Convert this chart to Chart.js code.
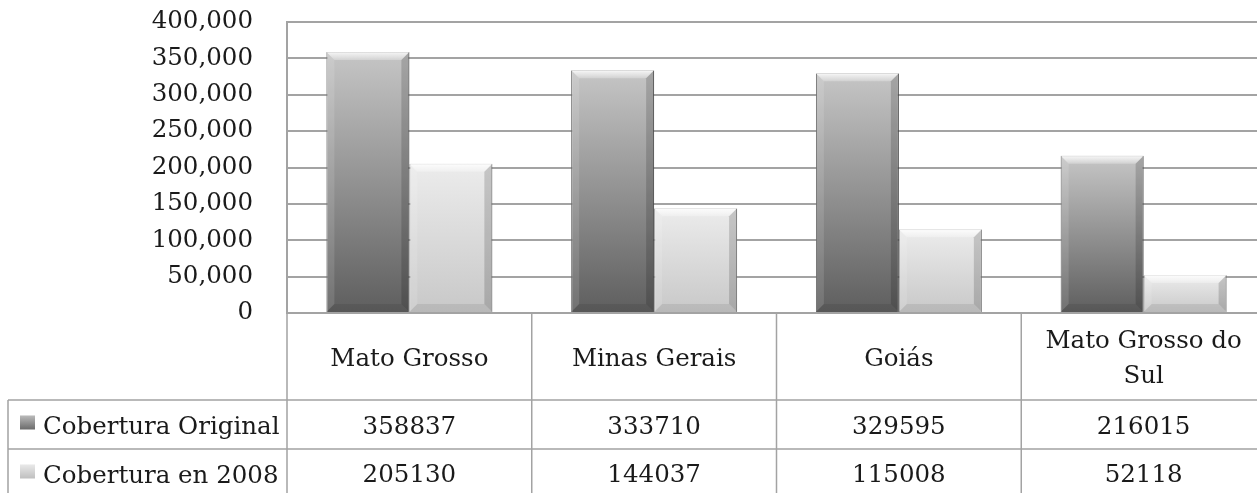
<!DOCTYPE html>
<html>
<head>
<meta charset="utf-8">
<script src="https://cdn.jsdelivr.net/npm/chart.js@4"></script>
<style>
  html, body { margin: 0; padding: 0; background: #fff; overflow: hidden; }
  canvas { display: block; }
</style>
</head>
<body>
<canvas id="coverChart" width="1275" height="500"></canvas>
<script>
var categories = ["Mato Grosso", "Minas Gerais", "Goiás", "Mato Grosso do Sul"];
var seriesNames = ["Cobertura Original", "Cobertura en 2008"];
var original = [358837, 333710, 329595, 216015];
var cover2008 = [205130, 144037, 115008, 52118];
var yTicks = [0, 50000, 100000, 150000, 200000, 250000, 300000, 350000, 400000];

var FONT = '24.5px "DejaVu Serif"';
var LINE = '#a3a3a3';

// per-bar vertical gradient, light at top, darker at base
function barFill(top, bottom) {
  return function (ctx) {
    var chart = ctx.chart;
    if (!chart.chartArea || ctx.parsed == null) return bottom;
    var y = chart.scales.y;
    var y0 = y.getPixelForValue(ctx.parsed.y);
    var y1 = y.getPixelForValue(0);
    var g = chart.ctx.createLinearGradient(0, y0, 0, y1);
    g.addColorStop(0, top);
    g.addColorStop(1, bottom);
    return g;
  };
}

// bevel look on the bars
var bevel = {
  id: 'bevel',
  afterDatasetsDraw: function (chart) {
    var c = chart.ctx, b = 8;
    chart.data.datasets.forEach(function (ds, di) {
      chart.getDatasetMeta(di).data.forEach(function (bar) {
        var l = bar.x - bar.width / 2, r = bar.x + bar.width / 2;
        var t = bar.y, btm = bar.base;
        var k = Math.min(b, (btm - t) / 2);
        c.save();
        var hg = c.createLinearGradient(0, t, 0, t + k);
        hg.addColorStop(0, 'rgba(255,255,255,0.85)');
        hg.addColorStop(1, 'rgba(255,255,255,0.25)');
        c.fillStyle = hg;
        c.beginPath();
        c.moveTo(l, t); c.lineTo(r, t); c.lineTo(r - k, t + k); c.lineTo(l + k, t + k);
        c.fill();
        c.fillStyle = 'rgba(255,255,255,0.12)';
        c.beginPath();
        c.moveTo(l, t); c.lineTo(l + k, t + k); c.lineTo(l + k, btm - k); c.lineTo(l, btm);
        c.fill();
        c.fillStyle = 'rgba(0,0,0,0.16)';
        c.beginPath();
        c.moveTo(r, t); c.lineTo(r - k, t + k); c.lineTo(r - k, btm - k); c.lineTo(r, btm);
        c.fill();
        c.fillStyle = 'rgba(0,0,0,0.08)';
        c.beginPath();
        c.moveTo(l, btm); c.lineTo(l + k, btm - k); c.lineTo(r - k, btm - k); c.lineTo(r, btm);
        c.fill();
        c.restore();
      });
    });
  }
};

// data table drawn under the plot
var dataTable = {
  id: 'dataTable',
  afterDraw: function (chart) {
    var c = chart.ctx, x = chart.scales.x, area = chart.chartArea;
    var n = categories.length, w = (x.right - x.left) / n;
    var top = area.bottom, r1 = 400, r2 = 449, r3 = 498, tableLeft = 8;
    c.save();
    c.strokeStyle = LINE;
    c.lineWidth = 1.5;
    c.beginPath();
    c.moveTo(tableLeft, r1); c.lineTo(x.right, r1);
    c.moveTo(tableLeft, r2); c.lineTo(x.right, r2);
    c.moveTo(tableLeft, r3); c.lineTo(x.right, r3);
    c.moveTo(tableLeft, r1); c.lineTo(tableLeft, r3);
    for (var i = 0; i <= n; i++) {
      var bx = x.left + i * w;
      c.moveTo(bx, top); c.lineTo(bx, r3);
    }
    c.stroke();

    c.font = FONT;
    c.fillStyle = '#1a1a1a';
    c.textAlign = 'center';
    c.textBaseline = 'middle';
    categories.forEach(function (name, i) {
      var cx = x.getPixelForValue(i);
      var lines = wrap(c, name, w - 20);
      var mid = (top + r1) / 2 + 3;
      lines.forEach(function (s, j) {
        c.fillText(s, cx, mid + (j - (lines.length - 1) / 2) * 35);
      });
      c.fillText(String(original[i]), cx, (r1 + r2) / 2 + 3);
      c.fillText(String(cover2008[i]), cx, (r2 + r3) / 2 + 2);
    });

    c.textAlign = 'left';
    [[r1, r2], [r2, r3]].forEach(function (row, si) {
      var mid = (row[0] + row[1]) / 2;
      var ds = chart.data.datasets[si];
      var g = c.createLinearGradient(0, mid - 8, 0, mid + 7);
      g.addColorStop(0, si ? '#e6e6e6' : '#b5b5b5');
      g.addColorStop(1, si ? '#b9b9b9' : '#5f5f5f');
      c.fillStyle = g;
      c.fillRect(20, mid - 9, 15, 14);
      c.fillStyle = '#1a1a1a';
      c.fillText(ds.label, 43, mid + 3);
    });
    c.restore();
  }
};

function wrap(c, text, maxW) {
  var words = text.split(' '), lines = [], cur = '';
  words.forEach(function (wd) {
    var t = cur ? cur + ' ' + wd : wd;
    if (c.measureText(t).width > maxW && cur) { lines.push(cur); cur = wd; }
    else cur = t;
  });
  lines.push(cur);
  return lines;
}

var ctx = document.getElementById('coverChart').getContext('2d');
new Chart(ctx, {
  type: 'bar',
  data: {
    labels: categories,
    datasets: [{
      label: seriesNames[0],
      data: original,
      backgroundColor: barFill('#c6c6c6', '#5e5e5e'),
      borderColor: '#555555',
      borderWidth: 1
    }, {
      label: seriesNames[1],
      data: cover2008,
      backgroundColor: barFill('#ececec', '#c8c8c8'),
      borderColor: '#8a8a8a',
      borderWidth: 1
    }]
  },
  options: {
    responsive: false,
    animation: false,
    layout: { padding: { left: 0, top: 22, right: 9, bottom: 187 } },
    plugins: { legend: { display: false }, tooltip: { enabled: false } },
    datasets: { bar: { categoryPercentage: 0.678, barPercentage: 1 } },
    scales: {
      x: {
        ticks: { display: false },
        grid: { display: false, drawTicks: false },
        border: { display: false }
      },
      y: {
        min: 0,
        max: 400000,
        afterFit: function (s) { s.width = 287; s.paddingTop = 0; s.paddingBottom = 0; },
        afterBuildTicks: function (s) { s.ticks = yTicks.map(function (v) { return { value: v }; }); },
        ticks: {
          padding: 34,
          color: '#1a1a1a',
          font: { family: 'DejaVu Serif', size: 24.5 },
          callback: function (v) { return Number(v).toLocaleString('en-US'); }
        },
        grid: { color: LINE, lineWidth: 2, drawTicks: false },
        border: { color: LINE, width: 2 }
      }
    }
  },
  plugins: [bevel, dataTable]
});
</script>
</body>
</html>
